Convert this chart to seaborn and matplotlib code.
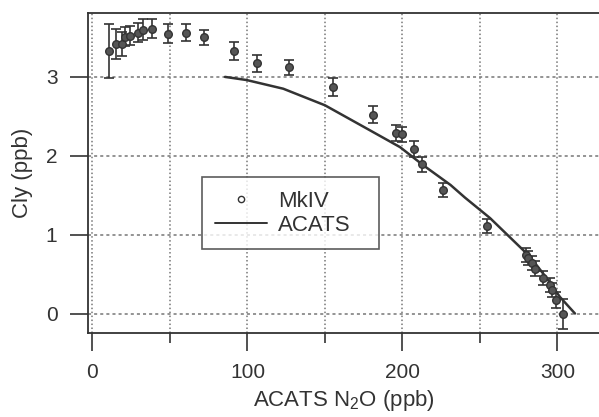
import numpy as np
import pandas as pd
import matplotlib
matplotlib.use("Agg")
import matplotlib.pyplot as plt
from matplotlib.lines import Line2D
import seaborn as sns

mkiv_n2o = [10.5, 15.2, 18.8, 21.0, 24.2, 29.5, 32.8, 38.2, 48.9, 60.1, 71.9,
            91.3, 106.0, 127.0, 155.4, 181.2, 195.6, 199.9, 207.4, 212.4, 226.3,
            254.3, 279.5, 281.2, 283.4, 285.5, 290.8, 295.2, 296.6, 298.8, 303.4]
mkiv_cly = [3.33, 3.42, 3.42, 3.51, 3.52, 3.56, 3.60, 3.61, 3.55, 3.56, 3.50,
            3.33, 3.17, 3.12, 2.87, 2.52, 2.29, 2.27, 2.09, 1.89, 1.57,
            1.11, 0.74, 0.70, 0.64, 0.57, 0.45, 0.36, 0.30, 0.17, 0.00]
mkiv_err = [0.34, 0.19, 0.15, 0.12, 0.12, 0.12, 0.13, 0.12, 0.12, 0.11, 0.10,
            0.11, 0.11, 0.10, 0.11, 0.11, 0.10, 0.10, 0.10, 0.10, 0.09,
            0.09, 0.09, 0.09, 0.09, 0.09, 0.09, 0.09, 0.09, 0.10, 0.19]

# ACATS relation
acats_n2o = [85.5, 99.5, 123.1, 150.0, 174.7, 198.4, 213.4, 231.0, 240.3,
             256.5, 282.3, 293.0, 301.6, 311.3]
acats_cly = [3.00, 2.96, 2.85, 2.64, 2.37, 2.11, 1.88, 1.63, 1.47,
             1.21, 0.72, 0.45, 0.21, 0.00]

mkiv = pd.DataFrame({"n2o": mkiv_n2o, "cly": mkiv_cly, "err": mkiv_err})
acats = pd.DataFrame({"n2o": acats_n2o, "cly": acats_cly})

sns.set_style("ticks")
plt.rcParams["font.family"] = ["Liberation Sans", "DejaVu Sans"]
plt.rcParams["mathtext.default"] = "regular"
ink = "#333333"

fig = plt.figure(figsize=(5.99, 4.17), dpi=100)
ax = fig.add_axes([0.1469, 0.2022, 0.8531, 0.7666])

# grid
for xv in np.arange(0, 301, 50):
    ax.axvline(xv, color="#777777", lw=1.1, ls=(0, (1, 1.6)), zorder=0)
for yv in range(0, 4):
    ax.axhline(yv, color="#777777", lw=1.1, ls=(0, (2, 2)), zorder=0)

sns.lineplot(data=acats, x="n2o", y="cly", sort=False, color=ink, lw=1.8,
             ax=ax, zorder=3)
ax.errorbar(mkiv["n2o"], mkiv["cly"], yerr=mkiv["err"], fmt="none",
            ecolor=ink, elinewidth=1.2, capsize=3.6, capthick=1.2, zorder=4)
sns.scatterplot(data=mkiv, x="n2o", y="cly", color="#555555", edgecolor=ink,
                linewidth=1.0, s=30, ax=ax, zorder=5)

ax.set_xlim(-2.9, 326.8)
ax.set_ylim(-0.243, 3.81)
ax.set_xticks([0, 100, 200, 300])
ax.set_xticks([50, 150, 250], minor=True)
ax.set_yticks([0, 1, 2, 3])
ax.tick_params(axis="both", which="major", direction="out", length=13,
               width=1.2, color=ink, labelsize=15, labelcolor=ink, pad=9)
ax.tick_params(axis="x", which="minor", direction="out", length=7,
               width=1.2, color=ink)

for side in ["left", "top", "bottom"]:
    ax.spines[side].set_color(ink)
    ax.spines[side].set_linewidth(1.3)
ax.spines["right"].set_visible(False)

ax.set_xlabel("ACATS N$_2$O (ppb)", fontsize=16, color=ink, labelpad=4)
ax.set_ylabel("Cly (ppb)", fontsize=16, color=ink, labelpad=9)

handles = [
    Line2D([], [], ls="none", marker="o", markersize=4.5, mfc="white",
           mec=ink, mew=1.0),
    Line2D([], [], color=ink, lw=1.4),
]
leg = ax.legend(handles, ["MkIV", "ACATS"], loc="upper left",
                bbox_to_anchor=(0.2225, 0.2556, 0.347, 0.2304), mode="expand",
                borderaxespad=0, fontsize=16, frameon=True, fancybox=False,
                handlelength=2.35, handletextpad=0.5, borderpad=0.6,
                labelspacing=0.15)
leg.get_frame().set_edgecolor(ink)
leg.get_frame().set_linewidth(1.2)
for t in leg.get_texts():
    t.set_color(ink)

fig.savefig("out.png", dpi=100)
